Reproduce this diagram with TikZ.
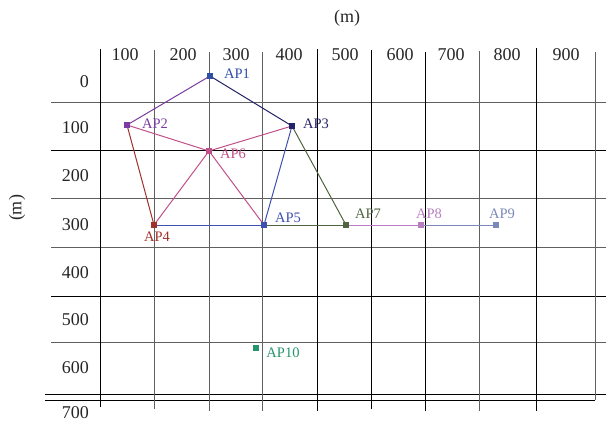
\documentclass[tikz,border=0pt]{standalone}
\usepackage{fontspec}
\setmainfont{Liberation Serif}
\definecolor{cA}{HTML}{2E4FA8}
\definecolor{cB}{HTML}{7B3BA0}
\definecolor{cC}{HTML}{22226A}
\definecolor{cD}{HTML}{A0302A}
\definecolor{cE}{HTML}{3F51B0}
\definecolor{cF}{HTML}{C0508A}
\definecolor{cG}{HTML}{4F6440}
\definecolor{cH}{HTML}{B77FC0}
\definecolor{cI}{HTML}{7A8AB8}
\definecolor{cJ}{HTML}{25956B}
\definecolor{gridgray}{HTML}{606060}
\tikzset{
  gridk/.style={line width=0.9pt, black},
  gridg/.style={line width=0.9pt, gridgray},
  axlab/.style={font=\fontsize{18}{20}\selectfont, text=black!85, inner sep=0pt},
  aplab/.style={font=\fontsize{14.5}{16}\selectfont, inner sep=0pt},
  apt/.style={rectangle, minimum size=5.5pt, inner sep=0pt, draw=none},
  link/.style={line width=1pt}
}
\begin{document}
\begin{tikzpicture}[x=1pt,y=-1pt]
\useasboundingbox (0,0) rectangle (606,423);
% horizontal grid lines
\foreach \yy/\st in {102/gridg,150/gridk,198/gridg,247/gridg,296/gridk,342/gridg}
  \draw[\st] (51,\yy) -- (606,\yy);
\draw[gridk] (45,394) -- (606,394);
\draw[gridk] (45,400) -- (595,400);
% vertical grid lines
\foreach \xx/\ta/\tb/\st in {100/49/407/gridk,154/50/409/gridg,209/52/411/gridg,262/52/411/gridg,317/49/411/gridk,371/50/409/gridk,425/52/411/gridk,479/51/411/gridg,536/48/411/gridk,595/52/400/gridg}
  \draw[\st] (\xx,\ta) -- (\xx,\tb);
% axis labels
\node[axlab] (mtop) at (347,18) {(m)};
\node[axlab, rotate=90] (mleft) at (17,208) {(m)};
\foreach \xx/\t in {125/100,183/200,236/300,289/400,345/500,400/600,451/700,507/800,566/900}
  \node[axlab] at (\xx,55) {\t};
\foreach \yy/\t in {82/0,128/100,176/200,225/300,273/400,320/500,368/600,413/700}
  \node[axlab, anchor=east] at (89,\yy) {\t};
% AP positions
\coordinate (p1) at (210,76);
\coordinate (p2) at (127,125);
\coordinate (p3) at (292,126);
\coordinate (p4) at (154,225);
\coordinate (p5) at (264,225);
\coordinate (p6) at (209,151);
\coordinate (p7) at (346,225);
\coordinate (p8) at (421,225);
\coordinate (p9) at (496,225);
\coordinate (p10) at (256,348);
% links
\draw[link, cB] (p1) -- (p2);
\draw[link, cC] (p1) -- (p3);
\draw[link, cD] (p2) -- (p4);
\draw[link, cF] (p2) -- (p6);
\draw[link, cF] (p3) -- (p6);
\draw[link, cF] (p6) -- (p4);
\draw[link, cF] (p6) -- (p5);
\draw[link, cE] (p3) -- (p5);
\draw[link, cE] (p4) -- (p5);
\draw[link, cG] (p3) -- (p7);
\draw[link, cG] (p5) -- (p7);
\draw[link, cH] (p7) -- (p8);
\draw[link, cI] (p8) -- (p9);
% AP markers
\node[apt, fill=cA] (ap1) at (p1) {};
\node[apt, fill=cB] (ap2) at (p2) {};
\node[apt, fill=cC] (ap3) at (p3) {};
\node[apt, fill=cD] (ap4) at (p4) {};
\node[apt, fill=cE] (ap5) at (p5) {};
\node[apt, fill=cF] (ap6) at (p6) {};
\node[apt, fill=cG] (ap7) at (p7) {};
\node[apt, fill=cH] (ap8) at (p8) {};
\node[apt, fill=cI] (ap9) at (p9) {};
\node[apt, fill=cJ] (ap10) at (p10) {};
% AP labels
\node[aplab, text=cA] (l1) at (237,74) {AP1};
\node[aplab, text=cB] (l2) at (155,124) {AP2};
\node[aplab, text=cC] (l3) at (316,124) {AP3};
\node[aplab, text=cD] (l4) at (157,237) {AP4};
\node[aplab, text=cE] (l5) at (288,218) {AP5};
\node[aplab, text=cF] (l6) at (233,154) {AP6};
\node[aplab, text=cG] (l7) at (368,214) {AP7};
\node[aplab, text=cH] (l8) at (429,214) {AP8};
\node[aplab, text=cI] (l9) at (502,214) {AP9};
\node[aplab, text=cJ] (l10) at (283,353) {AP10};
\end{tikzpicture}
\end{document}
